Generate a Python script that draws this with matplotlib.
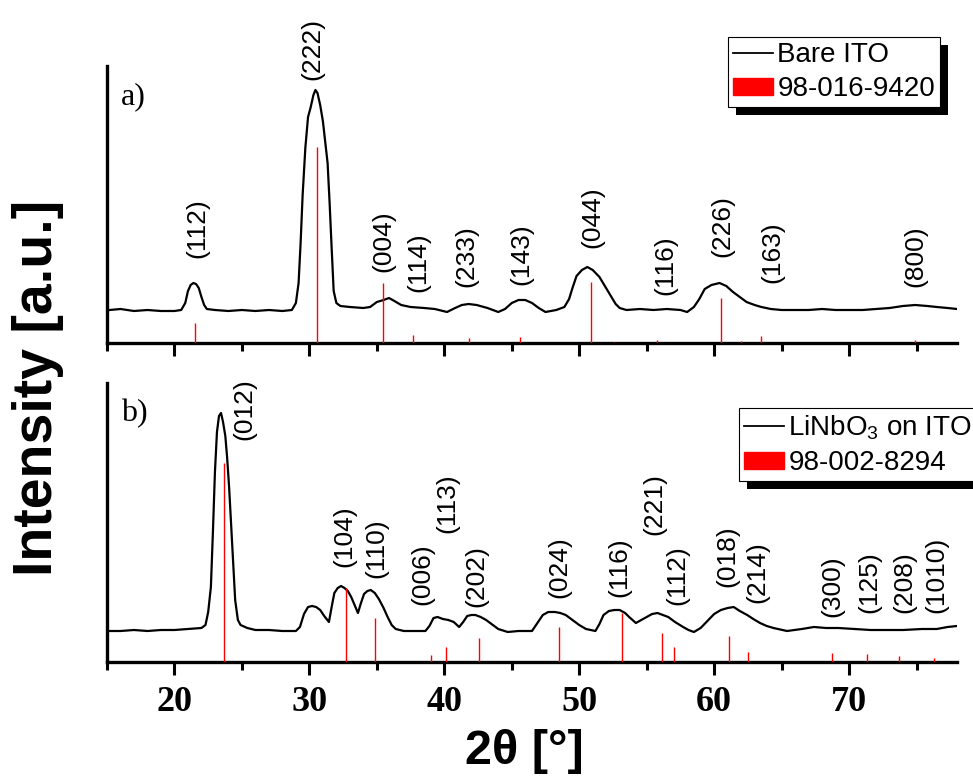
import matplotlib
matplotlib.use('Agg')
import matplotlib.pyplot as plt
from matplotlib.lines import Line2D
from matplotlib.patches import Patch, Rectangle
from matplotlib.transforms import IdentityTransform
from matplotlib.ticker import MultipleLocator

plt.rcParams['font.family'] = ['Liberation Sans', 'DejaVu Sans']

# --- a) bare ITO: measured pattern (2theta, intensity a.u.) ---
ito_theta = [15.2, 16.0, 17.0, 18.0, 19.0, 20.0, 20.5, 20.8, 21.0, 21.2, 21.4, 21.6, 21.8, 22.0,
             22.2, 22.4, 23.0, 24.0, 25.0, 26.0, 27.0, 28.0, 28.7, 29.0, 29.2, 29.35, 29.5, 29.7,
             29.9, 30.1, 30.3, 30.45, 30.6, 30.8, 31.0, 31.2, 31.35, 31.5, 31.65, 31.8, 32.0, 32.3,
             33.0, 34.0, 34.5, 35.0, 35.5, 35.9, 36.3, 36.8, 37.5, 38.5, 39.3, 40.2, 40.8, 41.3,
             41.8, 42.4, 43.2, 44.0, 44.5, 45.0, 45.5, 46.0, 46.5, 47.0, 47.5, 48.3, 48.9, 49.25,
             49.5, 49.8, 50.2, 50.6, 51.0, 51.5, 51.9, 52.3, 52.7, 53.0, 53.5, 54.5, 55.5, 56.5,
             57.5, 58.0, 58.5, 58.9, 59.3, 59.8, 60.4, 60.9, 61.4, 61.9, 62.4, 63.0, 63.5, 64.2,
             65.0, 66.0, 67.0, 68.0, 69.0, 70.0, 71.0, 72.0, 73.0, 74.0, 74.9, 75.8, 76.5, 77.3, 78.0]
ito_int = [33, 34, 32, 33, 32, 32, 33, 40, 52, 58, 60, 59, 55, 46,
           38, 34, 33, 32, 33, 32, 33, 32, 33, 40, 60, 100, 148, 195,
           226, 236, 248, 253, 250, 238, 222, 198, 180, 140, 95, 52, 40, 37,
           36, 35, 36, 41, 43, 45, 42, 38, 36, 35, 34, 31, 35, 38,
           39, 38, 35, 31, 34, 40, 43, 43, 40, 35, 31, 33, 36, 44,
           55, 67, 73, 76, 73, 66, 57, 48, 39, 35, 33, 34, 33, 34,
           33, 31, 36, 44, 54, 58, 60, 57, 51, 46, 41, 38, 36, 34,
           33, 33, 33, 34, 33, 33, 33, 34, 35, 37, 38, 37, 36, 35, 34]

# reference card 98-016-9420
ito_ref_pos = [21.5, 30.55, 35.45, 37.65, 41.8, 45.6, 50.85, 52.55, 55.8, 60.5, 62.0, 63.5, 74.9]
ito_ref_int = [20, 196, 60, 8, 5, 6, 61, 1, 3, 45, 2, 7.5, 3.5]

ito_hkl = ['(112)', '(222)', '(004)', '(114)', '(233)', '(143)', '(044)', '(116)', '(226)',
           '(163)', '(800)']
ito_hkl_pos = [21.7, 30.2, 35.5, 38.1, 41.6, 45.7, 51.0, 56.4, 60.6, 64.3, 74.9]
ito_hkl_y = [85, 263, 71, 51, 56, 58, 95, 48, 86, 60, 56]

# --- b) LiNbO3 on ITO ---
lnb_theta = [15.2, 16.0, 17.0, 18.0, 19.0, 20.0, 21.0, 22.0, 22.3, 22.5, 22.7, 22.85, 23.0, 23.15,
             23.3, 23.45, 23.6, 23.77, 23.9, 24.05, 24.2, 24.35, 24.5, 24.7, 24.9, 25.4, 26.0, 27.0,
             28.0, 29.0, 29.3, 29.6, 29.9, 30.2, 30.5, 30.8, 31.1, 31.45, 31.65, 31.85, 32.1, 32.35,
             32.6, 32.85, 33.1, 33.35, 33.6, 33.8, 34.05, 34.3, 34.55, 34.85, 35.15, 35.5, 35.8, 36.1,
             36.4, 37.0, 37.8, 38.6, 38.9, 39.2, 39.5, 39.9, 40.3, 40.7, 41.1, 41.4, 41.7, 42.0,
             42.3, 42.7, 43.1, 43.5, 44.0, 44.7, 45.5, 46.5, 47.0, 47.3, 47.7, 48.2, 48.6, 49.0,
             49.5, 50.0, 50.5, 51.2, 51.5, 51.8, 52.2, 52.6, 53.0, 53.4, 53.7, 54.2, 54.6, 55.0,
             55.4, 55.8, 56.2, 56.6, 57.1, 57.7, 58.1, 58.5, 59.0, 59.5, 60.0, 60.5, 61.0, 61.45,
             61.9, 62.45, 62.9, 63.4, 63.9, 64.4, 65.4, 66.5, 67.4, 68.3, 69.2, 70.4, 71.6, 72.8,
             74.0, 75.4, 76.5, 77.3, 78.0]
lnb_int = [31, 31, 32, 31, 32, 32, 33, 34, 37, 50, 75, 130, 190, 230,
           246, 249, 240, 226, 205, 175, 138, 100, 62, 42, 37, 34, 32, 32,
           31, 31, 35, 48, 55, 56, 55, 52, 46, 40, 55, 69, 74, 76,
           74, 71, 65, 57, 49, 58, 68, 71, 72, 69, 63, 54, 45, 37,
           33, 31, 31, 31, 36, 44, 45, 43, 42, 40, 35, 40, 46, 47,
           47, 45, 42, 38, 33, 30, 31, 31, 41, 47, 50, 50, 49, 47,
           42, 37, 33, 31, 38, 47, 51, 52, 52, 49, 45, 39, 42, 45,
           48, 49, 47, 45, 40, 35, 32, 30, 34, 41, 48, 52, 54, 55,
           51, 47, 43, 39, 36, 34, 31, 33, 35, 34, 34, 33, 32, 32,
           32, 33, 33, 35, 36]

# reference card 98-002-8294
lnb_ref_pos = [23.7, 32.75, 34.9, 39.0, 40.1, 42.6, 48.5, 53.2, 56.1, 57.0, 61.1, 62.5,
               68.7, 71.3, 73.7, 76.3]
lnb_ref_int = [199, 74, 44, 7, 15, 24, 35, 49, 29, 15, 26, 10, 9, 8, 6, 4]

lnb_hkl = ['(012)', '(104)', '(110)', '(006)', '(113)', '(202)', '(024)', '(116)', '(221)',
           '(112)', '(018)', '(214)', '(300)', '(125)', '(208)', '(1010)']
lnb_hkl_pos = [25.2, 32.6, 35.0, 38.4, 40.25, 42.35, 48.5, 53.0, 55.6, 57.3, 60.95, 63.2,
               68.8, 71.5, 74.1, 76.5]
lnb_hkl_y = [222, 95, 84, 57, 129, 55, 64, 65, 127, 57, 75, 59, 45, 49, 49, 49]

W, H = 973, 778
fig = plt.figure(figsize=(W / 100, H / 100), dpi=100)
ax1 = fig.add_axes([107 / W, 1 - 343 / H, 850 / W, 277 / H])
ax2 = fig.add_axes([107 / W, 1 - 662 / H, 850 / W, 279 / H])

panels = [
    (ax1, ito_theta, ito_int, ito_ref_pos, ito_ref_int, ito_hkl, ito_hkl_pos, ito_hkl_y, 277, 'a)'),
    (ax2, lnb_theta, lnb_int, lnb_ref_pos, lnb_ref_int, lnb_hkl, lnb_hkl_pos, lnb_hkl_y, 279, 'b)'),
]
for ax, th, inten, rp, ri, hkl, hp, hy, ytop, tag in panels:
    ax.plot(th, inten, color='black', lw=1.6, zorder=2)
    ax.vlines(rp, 0, ri, color='red', lw=1.0, zorder=3)
    for lab, x, y in zip(hkl, hp, hy):
        ax.text(x, y, lab, rotation=90, ha='center', va='bottom', fontsize=19)
    ax.text(0.016, 0.89, tag, transform=ax.transAxes, fontsize=23,
            family='Liberation Serif', va='center', ha='left')
    ax.set_xlim(15, 78)
    ax.set_ylim(0, ytop)
    ax.set_yticks([])
    for s in ['top', 'right']:
        ax.spines[s].set_visible(False)
    for s in ['left', 'bottom']:
        ax.spines[s].set_linewidth(2.4)
    ax.xaxis.set_major_locator(MultipleLocator(10))
    ax.xaxis.set_minor_locator(MultipleLocator(5))
    ax.tick_params(axis='x', which='major', direction='out', length=9.5, width=2.2, pad=8)
    ax.tick_params(axis='x', which='minor', direction='out', length=5.5, width=2.2)
    ax.patch.set_visible(False)

ax1.tick_params(axis='x', labelbottom=False)
for t in ax2.get_xticklabels():
    t.set_fontfamily('Liberation Serif')
    t.set_fontweight('bold')
    t.set_fontsize(26)

fig.text(38 / W, 1 - 388 / H, 'Intensity [a.u.]', rotation=90, ha='center', va='center',
         fontsize=40, fontweight='bold')
fig.text(524 / W, 1 - 751 / H, '2θ [°]', ha='center', va='center', fontsize=35,
         fontweight='bold')

legends = [
    ('Bare ITO', '98-016-9420', (728 / W, 1 - 37 / H)),
    ('LiNbO$_\\mathregular{3}$ on ITO', '98-002-8294', (739 / W, 1 - 408 / H)),
]
legs = []
for lab1, lab2, anchor in legends:
    handles = [Line2D([], [], color='black', lw=1.3),
               Patch(facecolor='red', edgecolor='red')]
    leg = fig.legend(handles, [lab1, lab2], loc='upper left', bbox_to_anchor=anchor,
                     fontsize=20, handlelength=1.45, handleheight=0.55, handletextpad=0.15,
                     borderpad=0.18, labelspacing=0.3, borderaxespad=0, fancybox=False,
                     edgecolor='black', framealpha=1)
    leg.get_frame().set_linewidth(0.8)
    legs.append(leg)

# black drop shadow behind each legend box
fig.canvas.draw()
for leg in legs:
    bb = leg.get_frame().get_window_extent()
    fig.add_artist(Rectangle((bb.x0 + 8, bb.y0 - 8), bb.width, bb.height,
                             transform=IdentityTransform(), facecolor='black',
                             edgecolor='none', zorder=4))

fig.savefig('out.png', dpi=100)
